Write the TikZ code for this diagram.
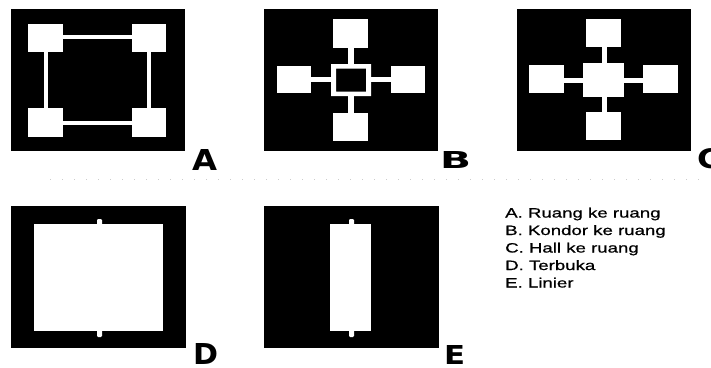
\documentclass[tikz,border=0pt]{standalone}
\usepackage{fontspec}
\usepackage{graphicx}
\setmainfont{Liberation Sans}
\newfontfamily\legendfont[FakeStretch=1.38,FakeBold=0.8]{Liberation Sans}
\newfontfamily\bigfont{DejaVu Sans}
\begin{document}
\begin{tikzpicture}[x=1pt,y=-1pt,
  panel/.style={fill=black},
  room/.style={fill=white},
  nub/.style={fill=white,rounded corners=1.2pt},
  legend/.style={anchor=base west,inner sep=0pt,font=\legendfont\fontsize{13.5}{16}\selectfont},
  biglabel/.style={anchor=north west,inner sep=0pt}]
\useasboundingbox[fill=white] (0,0) rectangle (711,367);
% faint separator
\draw[gray!40, line width=0.7pt, dash pattern=on 1pt off 11pt] (50,179) -- (705,179);

% ---------- Panel A : ruang ke ruang ----------
\fill[panel] (11,9) rectangle (185,151);
\fill[room] (63,34.5) rectangle (132,38.5);
\fill[room] (63,120.5) rectangle (132,124.5);
\fill[room] (43.5,52) rectangle (47.5,108);
\fill[room] (147,52) rectangle (151,108);
\fill[room] (28,24) rectangle (63,52);
\fill[room] (132,24) rectangle (166,52);
\fill[room] (28,108) rectangle (63,137);
\fill[room] (132,108) rectangle (166,137);
\node[biglabel] (labA) at (192,149) {\resizebox{25pt}{21pt}{\bigfont\bfseries A}};

% ---------- Panel B : koridor ke ruang ----------
\fill[panel] (264,9) rectangle (438,151);
\fill[room] (348,48) rectangle (354,64);
\fill[room] (348,96) rectangle (354,113);
\fill[room] (311,77) rectangle (331,82);
\fill[room] (371,77) rectangle (391,82);
\fill[room] (333,19) rectangle (368,48);
\fill[room] (277,66) rectangle (311,93);
\fill[room] (391,66) rectangle (425,93);
\fill[room] (333,113) rectangle (368,141);
\fill[room,even odd rule] (331,64) rectangle (371,96) (336,68.5) rectangle (366,91.5);
\node[biglabel] (labB) at (440,151) {\resizebox{31pt}{17pt}{\bigfont\bfseries B}};

% ---------- Panel C : hall ke ruang ----------
\fill[panel] (517,9) rectangle (691,151);
\fill[room] (601.5,47) rectangle (606.5,112);
\fill[room] (564,77.5) rectangle (643,82.5);
\fill[room] (586,19) rectangle (621,47);
\fill[room] (529,65) rectangle (564,93);
\fill[room] (643,65) rectangle (678,93);
\fill[room] (586,112) rectangle (621,140);
\fill[room] (583,63) rectangle (624,97);
\node[biglabel] (labC) at (697,148) {\resizebox{24pt}{20pt}{\bigfont\bfseries C}};

% ---------- Panel D : terbuka ----------
\fill[panel] (11,206) rectangle (186,348);
\fill[room] (34,224) rectangle (163,331);
\fill[nub] (97,219) rectangle (102,226);
\fill[nub] (97,329) rectangle (102,337);
\node[biglabel] (labD) at (193,343) {\resizebox{25pt}{21pt}{\bigfont\bfseries D}};

% ---------- Panel E : linier ----------
\fill[panel] (264,206) rectangle (439,348);
\fill[room] (330,224) rectangle (371,331);
\fill[nub] (349,219) rectangle (354,226);
\fill[nub] (349,329) rectangle (354,337);
\node[biglabel] (labE) at (444,345) {\resizebox{21pt}{19pt}{\bigfont\bfseries E}};

% ---------- Legend ----------
\node[legend] (l1) at (505,217.5) {A. Ruang ke ruang};
\node[legend] (l2) at (505,235) {B. Kondor ke ruang};
\node[legend] (l3) at (505,252.5) {C. Hall ke ruang};
\node[legend] (l4) at (505,270) {D. Terbuka};
\node[legend] (l5) at (505,287.5) {E. Linier};
\end{tikzpicture}
\end{document}
